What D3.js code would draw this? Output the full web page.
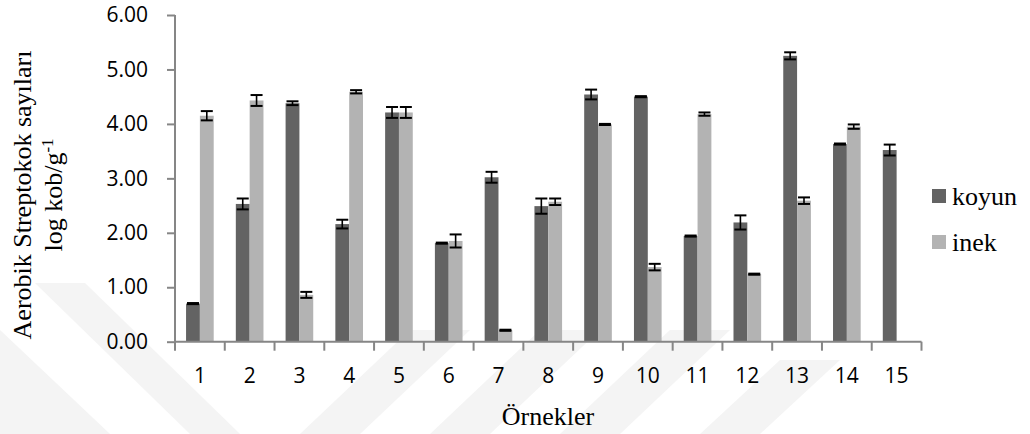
<!DOCTYPE html>
<html><head><meta charset="utf-8">
<script src="https://cdn.jsdelivr.net/npm/d3@7"></script>
<style>html,body{margin:0;padding:0;background:#fff;}svg{display:block;}</style>
</head><body>
<svg id="chart" width="1030" height="434"></svg>
<script>
const categories = ["1","2","3","4","5","6","7","8","9","10","11","12","13","14","15"];
const seriesNames = ["koyun","inek"];
const koyun    = [0.70, 2.53, 4.38, 2.16, 4.21, 1.81, 3.02, 2.49, 4.54, 4.50, 1.94, 2.19, 5.25, 3.63, 3.52];
const koyunErr = [0.01, 0.10, 0.035, 0.08, 0.10, 0.01, 0.10, 0.14, 0.09, 0.01, 0.01, 0.13, 0.065, 0.01, 0.10];
const inek     = [4.15, 4.43, 0.86, 4.59, 4.21, 1.85, 0.21, 2.57, 3.99, 1.37, 4.18, 1.24, 2.59, 3.95, null];
const inekErr  = [0.085, 0.10, 0.055, 0.03, 0.10, 0.12, 0.01, 0.06, 0.01, 0.06, 0.03, 0.01, 0.06, 0.04, null];
const yTicks = [0, 1, 2, 3, 4, 5, 6];
const colors = ["#636363", "#b3b3b3"];

const svg = d3.select("#chart");
const mLeft = 175, mRight = 921.5, mTop = 15, mBottom = 341.7;

// faint background watermark stripes
const wm = svg.append("g").attr("fill", "#f4f4f4");
[[[35,283],[85,283],[240,434],[190,434]],
 [[0,330],[0,434],[110,434]],
 [[300,434],[360,434],[470,330],[410,330]],
 [[430,434],[490,434],[600,330],[540,330]],
 [[560,434],[620,434],[730,330],[670,330]],
 [[700,434],[760,434],[840,360],[780,360]]].forEach(p=>{
  wm.append("polygon").attr("points", p.map(d=>d.join(",")).join(" "));
});

const x0 = d3.scaleBand().domain(categories).range([mLeft, mRight]).padding(0);
const bw = x0.bandwidth() / 3.6;
const x1 = d3.scaleBand().domain(seriesNames).range([0.8*bw, 2.8*bw]).padding(0);
const y = d3.scaleLinear().domain([0, 6]).range([mBottom, mTop]);

const data = [koyun, inek];
const errs = [koyunErr, inekErr];

// bars
seriesNames.forEach((s, si) => {
  const rows = categories.map((c, i) => ({c, v: data[si][i], e: errs[si][i]})).filter(d => d.v != null);
  svg.append("g").selectAll("rect").data(rows).join("rect")
    .attr("x", d => x0(d.c) + x1(s))
    .attr("y", d => y(d.v))
    .attr("width", x1.bandwidth())
    .attr("height", d => y(0) - y(d.v))
    .attr("fill", colors[si]);
});

// error bars
seriesNames.forEach((s, si) => {
  const rows = categories.map((c, i) => ({c, v: data[si][i], e: errs[si][i]})).filter(d => d.v != null);
  const g = svg.append("g").attr("stroke", "#000");
  rows.forEach(d => {
    const cx = x0(d.c) + x1(s) + x1.bandwidth()/2;
    const y1 = y(d.v + d.e), y2 = y(d.v - d.e);
    g.append("line").attr("x1", cx).attr("x2", cx).attr("y1", y1).attr("y2", y2).attr("stroke-width", 1.6);
    g.append("line").attr("x1", cx-6).attr("x2", cx+6).attr("y1", y1).attr("y2", y1).attr("stroke-width", 2);
    g.append("line").attr("x1", cx-6).attr("x2", cx+6).attr("y1", y2).attr("y2", y2).attr("stroke-width", 2);
  });
});

// axes
const axisColor = "#868686";
const yAxis = svg.append("g").attr("transform", `translate(${mLeft},0)`)
  .call(d3.axisLeft(y).tickValues(yTicks).tickFormat(d3.format(".2f")).tickSizeOuter(0).tickSize(8).tickPadding(19));
yAxis.select(".domain").attr("stroke", axisColor).attr("stroke-width", 2).attr("d", `M0,${mTop}V${mBottom}`);
yAxis.selectAll(".tick line").attr("stroke", axisColor).attr("stroke-width", 2);
yAxis.selectAll(".tick text").attr("font-family", "Open Sans, sans-serif").attr("font-size", 21).attr("fill", "#000");

const xAxis = svg.append("g").attr("transform", `translate(0,${mBottom})`)
  .call(d3.axisBottom(x0).tickSize(0).tickPadding(26));
xAxis.select(".domain").attr("stroke", axisColor).attr("stroke-width", 2).attr("d", `M${mLeft},0H${mRight}`);
xAxis.selectAll(".tick text").attr("font-family", "Open Sans, sans-serif").attr("font-size", 21).attr("fill", "#000");
// boundary ticks
xAxis.append("g").selectAll("line").data(categories.concat(["end"])).join("line")
  .attr("x1", (d,i) => mLeft + i*x0.bandwidth()).attr("x2", (d,i) => mLeft + i*x0.bandwidth())
  .attr("y1", 0).attr("y2", 9).attr("stroke", axisColor).attr("stroke-width", 2);

// axis titles
const yt = svg.append("text").attr("transform", "translate(0,195) rotate(-90)")
  .attr("text-anchor", "middle").attr("font-family", "Liberation Serif, Times New Roman, serif").attr("font-size", 26).attr("fill", "#000");
yt.append("tspan").attr("x", 0).attr("y", 31).text("Aerobik Streptokok sayıları");
const l2 = yt.append("tspan").attr("x", 0).attr("y", 62);
l2.append("tspan").text("log kob/g");
l2.append("tspan").attr("dy", -9).attr("font-size", 17).text("-1");

svg.append("text").attr("x", 548).attr("y", 425).attr("text-anchor", "middle")
  .attr("font-family", "Liberation Serif, Times New Roman, serif").attr("font-size", 26).attr("fill", "#000").text("Örnekler");

// legend
const leg = svg.append("g");
seriesNames.forEach((s, i) => {
  const ly = 189 + i*46;
  leg.append("rect").attr("x", 932).attr("y", ly).attr("width", 14).attr("height", 14).attr("fill", colors[i]);
  leg.append("text").attr("x", 952).attr("y", ly + 16).attr("font-family", "Liberation Serif, Times New Roman, serif")
    .attr("font-size", 26).attr("fill", "#000").text(s);
});
</script>
</body></html>
